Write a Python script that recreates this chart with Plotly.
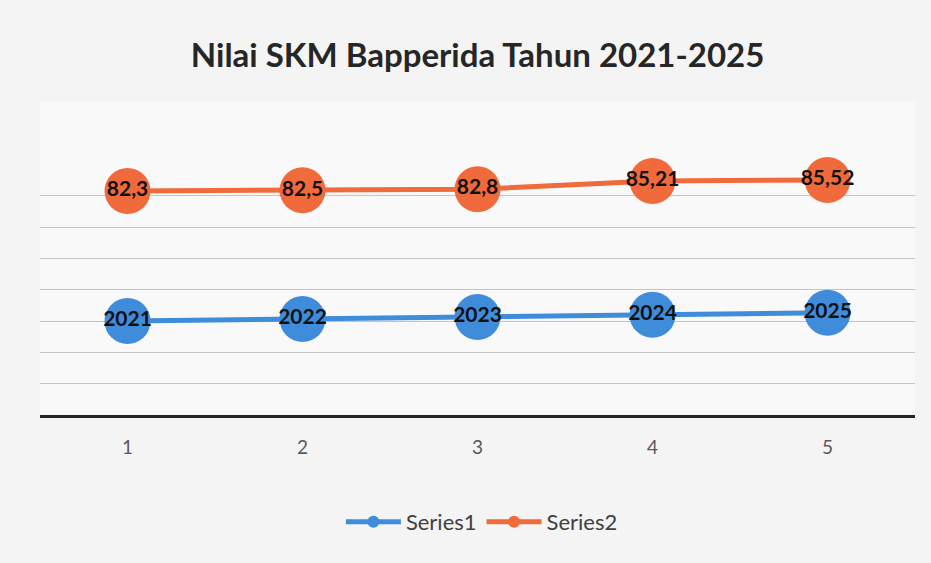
import plotly.graph_objects as go

categories = [1, 2, 3, 4, 5]
series1 = [2021, 2022, 2023, 2024, 2025]
series2 = [82.3, 82.5, 82.8, 85.21, 85.52]
tick_labels = ["1", "2", "3", "4", "5"]
grid_values = [1991, 2006, 2021, 2036, 2051, 2066, 2081]

def fmt(v):
    return str(v).replace(".", ",")

BLUE = "#3F8CDB"
ORANGE = "#F06A3C"
LABEL_FONT = dict(family="Lato", size=21, color="#111111", weight="bold")

fig = go.Figure()
fig.add_trace(go.Scatter(
    x=categories, y=series1, name="Series1", yaxis="y",
    mode="lines+markers+text",
    line=dict(color=BLUE, width=5),
    marker=dict(color=BLUE, size=46),
    text=[fmt(v) for v in series1], textposition="middle center",
    textfont=LABEL_FONT,
    cliponaxis=False,
))
fig.add_trace(go.Scatter(
    x=categories, y=series2, name="Series2", yaxis="y2",
    mode="lines+markers+text",
    line=dict(color=ORANGE, width=5),
    marker=dict(color=ORANGE, size=46),
    text=[fmt(v) for v in series2], textposition="middle center",
    textfont=LABEL_FONT,
    cliponaxis=False,
))

fig.update_layout(
    width=931, height=563,
    margin=dict(l=40, r=16, t=102, b=148),
    paper_bgcolor="#f4f4f4",
    plot_bgcolor="#f9f9f9",
    title=dict(text="<b>Nilai SKM Bapperida Tahun 2021-2025</b>",
               x=0.513, xanchor="center", y=0.902, yanchor="middle",
               font=dict(family="Lato", size=33, color="#262626")),
    xaxis=dict(range=[0.5, 5.5], tickvals=categories, ticktext=tick_labels,
               showgrid=False, zeroline=False, showline=True,
               linecolor="#262626", linewidth=3, ticks="",
               ticklabelstandoff=13,
               tickfont=dict(family="Lato", size=19, color="#595959")),
    yaxis=dict(range=[1976, 2126], tickmode="array", tickvals=grid_values,
               showticklabels=False,
               showgrid=True, gridcolor="#c4c4c4", gridwidth=1,
               zeroline=False, showline=False, ticks=""),
    yaxis2=dict(range=[16.8, 108.3], overlaying="y", side="right",
                showgrid=False, showticklabels=False, zeroline=False,
                ticks="", showline=False),
    showlegend=True,
    legend=dict(orientation="h", x=0.505, xanchor="center", y=-0.342,
                yanchor="middle", itemsizing="constant", itemwidth=55,
                bgcolor="rgba(0,0,0,0)",
                font=dict(family="Lato", size=22, color="#404040")),
)

fig.write_html("out.html", config={"displayModeBar": False},
               post_script="document.body.style.margin='0';")
